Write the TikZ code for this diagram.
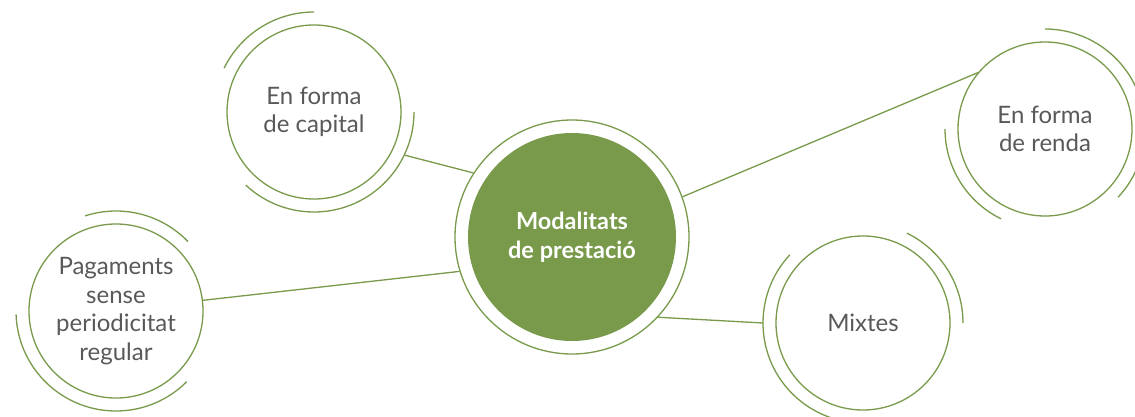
\documentclass[tikz,border=0pt]{standalone}
\usepackage{fontspec}
\setmainfont{Lato}
\definecolor{grn}{RGB}{120,154,74}
\definecolor{txt}{RGB}{89,89,89}
\begin{document}
\begin{tikzpicture}[x=1pt,y=1pt,
  leaf/.style={circle,draw=grn,line width=1.3pt,minimum size=174pt,inner sep=0pt,
    align=center,text=txt,font=\fontsize{24}{28.5}\selectfont},
  arcline/.style={draw=grn,line width=1.3pt},
  conn/.style={draw=grn,line width=1.3pt}]
\clip (0,0) rectangle (1135,416);
\useasboundingbox (0,0) rectangle (1135,416);
% central
\node[circle,fill=grn,minimum size=208pt,inner sep=0pt,align=center,text=white,
  font=\bfseries\fontsize{23.5}{28.5}\selectfont] (main) at (572,179) {Modalitats\\de prestació};
\node[circle,draw=grn,line width=1.3pt,minimum size=234pt,inner sep=0pt] (ring) at (572,179) {};
% leaves
\node[leaf] (cap) at (314,304) {En forma\\de capital};
\node[leaf] (ren) at (1045,287) {En forma\\de renda};
\node[leaf] (pag) at (116,105) {Pagaments\\sense\\periodicitat\\regular};
\node[leaf] (mix) at (863,93) {Mixtes};
% outer arcs
\draw[arcline] (cap.center) ++(90:100) arc (90:154:100);
\draw[arcline] (cap.center) ++(-133:100) arc (-133:0:100);
\draw[arcline] (ren.center) ++(180:100) arc (180:244:100);
\draw[arcline] (ren.center) ++(-43:100) arc (-43:90:100);
\draw[arcline] (pag.center) ++(44:100) arc (44:108:100);
\draw[arcline] (pag.center) ++(182:100) arc (182:315:100);
\draw[arcline] (mix.center) ++(0:100) arc (0:64:100);
\draw[arcline] (mix.center) ++(137:100) arc (137:260:100);
% connector ends
\path (cap.center) ++(-25.5:100) coordinate (capend);
\path (mix.center) ++(180:100) coordinate (mixend);
% connectors
\draw[conn] (ring.147) -- (capend);
\draw[conn] (ring.20) -- (ren.140.5);
\draw[conn] (ring.197.5) -- (pag.7);
\draw[conn] (ring.-43) -- (mixend);
\end{tikzpicture}
\end{document}
